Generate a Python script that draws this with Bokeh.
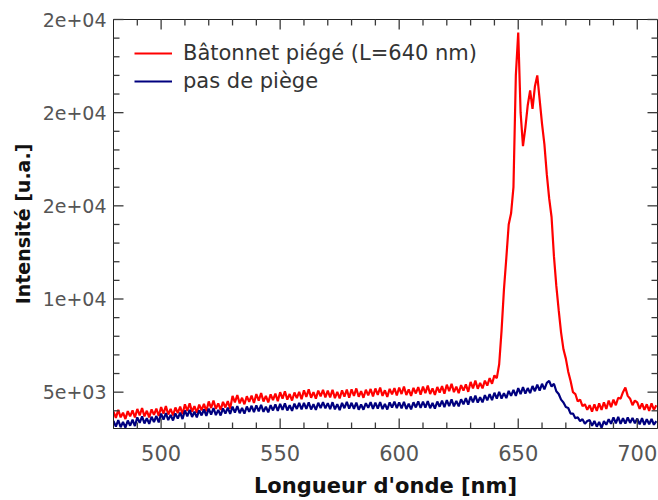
from bokeh.plotting import figure
from bokeh.models import SingleIntervalTicker, Range1d, Legend, LegendItem, ColumnDataSource
from bokeh.embed import file_html
from bokeh.resources import INLINE

# ---------------- data ----------------
wavelength = list(range(480, 709))

red_trapped = [
    3950, 3620, 4050, 3650, 3900, 3560, 3980, 3700, 4020, 3640,   # 480
    4100, 3750, 4150, 3700, 4000, 3650, 4080, 3780, 4120, 3720,   # 490
    4200, 3850, 4250, 3800, 4100, 3750, 4180, 3880, 4220, 3820,   # 500
    4350, 4000, 4400, 3950, 4250, 3900, 4330, 4030, 4370, 3970,   # 510
    4500, 4150, 4550, 4100, 4400, 4050, 4480, 4180, 4520, 4120,   # 520
    4800, 4450, 4850, 4400, 4700, 4350, 4780, 4480, 4820, 4420,   # 530
    4900, 4550, 4950, 4500, 4800, 4450, 4880, 4580, 4920, 4520,   # 540
    5000, 4650, 5050, 4600, 4900, 4550, 4980, 4680, 5020, 4620,   # 550
    5100, 4750, 5150, 4700, 5000, 4650, 5080, 4780, 5120, 4720,   # 560
    5080, 4720, 5130, 4680, 5020, 4660, 5100, 4760, 5140, 4700,   # 570
    5150, 4800, 5200, 4750, 5050, 4700, 5130, 4830, 5170, 4770,   # 580
    5200, 4850, 5250, 4800, 5100, 4750, 5180, 4880, 5220, 4820,   # 590
    5250, 4900, 5300, 4850, 5150, 4800, 5230, 4930, 5270, 4870,   # 600
    5300, 4950, 5350, 4900, 5200, 4850, 5280, 4980, 5320, 4920,   # 610
    5400, 5050, 5450, 5000, 5300, 4950, 5380, 5080, 5420, 5020,   # 620
    5550, 5200, 5620, 5180, 5500, 5200, 5620, 5350, 5750, 5450,   # 630
    5900, 5750, 6500, 8300, 10500, 12200, 14000, 14600, 16000, 22000,  # 640
    24300, 20000, 18200, 19200, 20400, 21200, 20200, 21400, 22000, 20700,  # 650
    19400, 18300, 16700, 15400, 14400, 12300, 10700, 9400, 8200, 7300,  # 660
    6800, 6100, 5600, 5000, 4900, 4500, 4600, 4250, 4350, 4050,   # 670
    4300, 3950, 4350, 4000, 4400, 4050, 4450, 4100, 4550, 4200,   # 680
    4600, 4300, 4700, 4650, 5000, 5250, 4800, 4650, 4300, 4550,   # 690
    4450, 4100, 4400, 4050, 4350, 4000, 4400, 4050, 4300,         # 700
]

blue_no_trap = [
    3450, 3150, 3500, 3120, 3400, 3100, 3480, 3200, 3520, 3180,   # 480
    3650, 3350, 3700, 3320, 3600, 3300, 3680, 3400, 3720, 3380,   # 490
    3850, 3530, 3880, 3500, 3780, 3480, 3860, 3580, 3900, 3560,   # 500
    4020, 3700, 4050, 3670, 3950, 3650, 4030, 3750, 4070, 3730,   # 510
    4120, 3800, 4150, 3770, 4050, 3750, 4130, 3850, 4170, 3830,   # 520
    4220, 3900, 4250, 3870, 4150, 3850, 4230, 3950, 4270, 3930,   # 530
    4290, 3970, 4320, 3940, 4220, 3920, 4300, 4020, 4340, 4000,   # 540
    4370, 4050, 4400, 4020, 4300, 4000, 4380, 4100, 4420, 4080,   # 550
    4420, 4100, 4450, 4070, 4350, 4050, 4430, 4150, 4470, 4130,   # 560
    4410, 4090, 4460, 4080, 4360, 4040, 4420, 4140, 4480, 4120,   # 570
    4430, 4110, 4440, 4060, 4340, 4060, 4410, 4160, 4460, 4100,   # 580
    4440, 4120, 4470, 4090, 4370, 4070, 4450, 4170, 4490, 4150,   # 590
    4450, 4130, 4480, 4100, 4380, 4080, 4460, 4180, 4500, 4160,   # 600
    4490, 4170, 4520, 4140, 4420, 4120, 4500, 4220, 4540, 4200,   # 610
    4570, 4250, 4610, 4240, 4530, 4240, 4620, 4350, 4680, 4330,   # 620
    4770, 4450, 4810, 4440, 4730, 4450, 4840, 4560, 4900, 4570,   # 630
    4970, 4650, 5010, 4660, 4950, 4680, 5070, 4800, 5120, 4800,   # 640
    5220, 4900, 5270, 4920, 5220, 4950, 5330, 5050, 5400, 5080,   # 650
    5450, 5150, 5500, 5600, 5300, 5450, 5050, 4900, 4600, 4450,   # 660
    4200, 4150, 3850, 3850, 3600, 3650, 3450, 3550, 3300, 3450,   # 670
    3500, 3200, 3450, 3150, 3400, 3080, 3450, 3250, 3550, 3300,   # 680
    3650, 3330, 3680, 3300, 3600, 3320, 3640, 3350, 3620, 3330,   # 690
    3580, 3270, 3600, 3250, 3550, 3280, 3560, 3250, 3450,         # 700
]

series_labels = ["Bâtonnet piégé (L=640 nm)", "pas de piège"]
series_colors = ["#ff0000", "#00007f"]

x_major_ticks = [500, 550, 600, 650, 700]
x_minor_ticks = [490, 510, 520, 530, 540, 560, 570, 580, 590, 610, 620, 630, 640,
                 660, 670, 680, 690]
y_ticks = [5000, 10000, 15000, 20000, 25000]
y_tick_labels = ["5e+03", "1e+04", "2e+04", "2e+04", "2e+04"]
y_minor_ticks = [4000, 6000, 7000, 8000, 9000, 11000, 12000, 13000, 14000, 16000,
                 17000, 18000, 19000, 21000, 22000, 23000, 24000]

x_label = "Longueur d'onde [nm]"
y_label = "Intensité [u.a.]"

X_MIN, X_MAX = 480, 708.5
Y_MIN, Y_MAX = 3050, 25000
FONT = "DejaVu Sans"
AXIS_COLOR = "#222222"
TICK_COLOR = "#3a3a3a"

W, H = 658, 500
B_LEFT, B_RIGHT, B_TOP, B_BOTTOM = 113, 1, 19, 70
FRAME_W = W - B_LEFT - B_RIGHT
FRAME_H = H - B_TOP - B_BOTTOM
MAJOR_LEN, MINOR_LEN = 10, 6   # tick lengths in pixels

# ---------------- figure ----------------
p = figure(width=W, height=H, output_backend="svg", toolbar_location=None,
           x_range=Range1d(X_MIN, X_MAX), y_range=Range1d(Y_MIN, Y_MAX),
           min_border_left=B_LEFT, min_border_right=B_RIGHT, min_border_top=B_TOP,
           min_border_bottom=B_BOTTOM)

p.xgrid.visible = False
p.ygrid.visible = False
p.outline_line_color = AXIS_COLOR
p.outline_line_width = 1
p.background_fill_color = "white"
p.border_fill_color = "white"

# inward tick marks on all four sides of the frame (one multi_line source)
px_y = (Y_MAX - Y_MIN) / FRAME_H   # data units per pixel, vertical
px_x = (X_MAX - X_MIN) / FRAME_W   # data units per pixel, horizontal

tick_xs, tick_ys = [], []
for xs, length in ((x_major_ticks, MAJOR_LEN), (x_minor_ticks, MINOR_LEN)):
    for x in xs:
        tick_xs.append([x, x]); tick_ys.append([Y_MIN, Y_MIN + length * px_y])
        tick_xs.append([x, x]); tick_ys.append([Y_MAX, Y_MAX - length * px_y])
for ys, length in ((y_ticks, MAJOR_LEN), (y_minor_ticks, MINOR_LEN)):
    for y in ys:
        tick_xs.append([X_MIN, X_MIN + length * px_x]); tick_ys.append([y, y])
        tick_xs.append([X_MAX, X_MAX - length * px_x]); tick_ys.append([y, y])

tick_src = ColumnDataSource(data=dict(xs=tick_xs, ys=tick_ys))

r1 = p.line(wavelength, red_trapped, line_color=series_colors[0], line_width=2.2)
r2 = p.line(wavelength, blue_no_trap, line_color=series_colors[1], line_width=2.2)

tick_r = p.multi_line(xs="xs", ys="ys", source=tick_src, line_color=TICK_COLOR,
                      line_width=1.3, level="overlay")


def style_axis(ax, ticker, label_size, title_size):
    ax.ticker = ticker
    ax.axis_line_color = AXIS_COLOR
    ax.major_tick_line_color = None
    ax.minor_tick_line_color = None
    ax.major_tick_in = 0
    ax.major_tick_out = 0
    ax.minor_tick_in = 0
    ax.minor_tick_out = 0
    ax.major_label_text_font = FONT
    ax.major_label_text_font_size = label_size
    ax.major_label_text_color = "#555555"
    ax.axis_label_text_font = FONT
    ax.axis_label_text_font_style = "bold"
    ax.axis_label_text_font_size = title_size
    ax.axis_label_text_color = "#111111"


xa = p.xaxis[0]
style_axis(xa, SingleIntervalTicker(interval=50), "21px", "21px")
xa.axis_label = x_label
xa.major_label_standoff = 16
xa.axis_label_standoff = 10

ya = p.yaxis[0]
style_axis(ya, SingleIntervalTicker(interval=5000), "19px", "19px")
ya.axis_label = y_label
ya.major_label_standoff = 7
ya.axis_label_standoff = 6
ya.major_label_overrides = {t: l for t, l in zip(y_ticks, y_tick_labels)}

legend = Legend(items=[LegendItem(label=series_labels[0], renderers=[r1]),
                       LegendItem(label=series_labels[1], renderers=[r2])])
legend.border_line_color = None
legend.background_fill_alpha = 0
legend.label_text_font = FONT
legend.label_text_font_size = "21px"
legend.label_text_color = "#333333"
legend.glyph_width = 38
legend.glyph_height = 20
legend.label_standoff = 11
legend.spacing = 4
legend.padding = 0
legend.margin = 0
legend.location = (21, 335)
p.add_layout(legend, "center")

open("out.html", "w").write(file_html(p, INLINE))
